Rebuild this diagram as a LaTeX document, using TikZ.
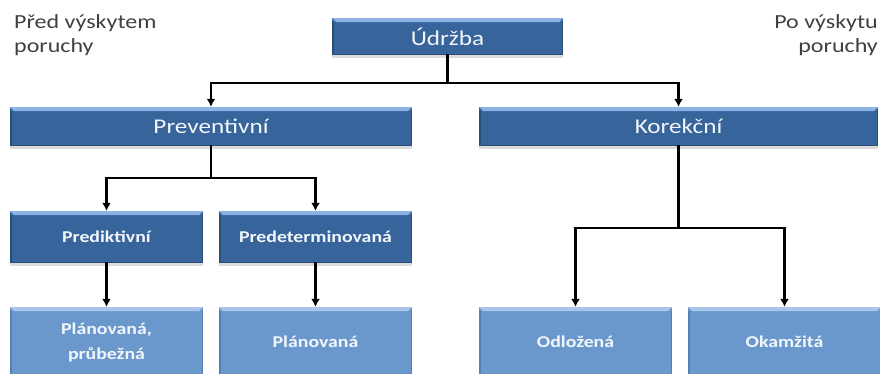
\documentclass[tikz,border=0pt]{standalone}
\usepackage{fontspec}
\setmainfont{Carlito}[FakeStretch=1.2]
\usetikzlibrary{arrows.meta,shadows}

\definecolor{boxdark}{HTML}{37649A}
\definecolor{boxdarktop}{HTML}{8DB3E2}
\definecolor{boxdarkedge}{HTML}{2A4E78}
\definecolor{boxlight}{HTML}{6A98CC}
\definecolor{boxlighttop}{HTML}{A9C6EA}
\definecolor{boxlightedge}{HTML}{5580B4}
\definecolor{boxtext}{HTML}{F2F6FB}
\definecolor{notetext}{HTML}{404040}

\tikzset{
  bevel/.style 2 args={path picture={
    % light strip along the top edge
    \fill[#1] (path picture bounding box.north west)
      -- (path picture bounding box.north east)
      -- ([xshift=-4pt,yshift=-4pt]path picture bounding box.north east)
      -- ([xshift=4pt,yshift=-4pt]path picture bounding box.north west) -- cycle;
    % darker thin sides and bottom
    \fill[#2] ([yshift=-4pt]path picture bounding box.north west)
      rectangle ([xshift=1.5pt]path picture bounding box.south west);
    \fill[#2] ([yshift=-4pt]path picture bounding box.north east)
      rectangle ([xshift=-1.5pt]path picture bounding box.south east);
    \fill[#2] (path picture bounding box.south west)
      rectangle ([yshift=1.5pt]path picture bounding box.south east);
  }},
  basebox/.style={rectangle, inner sep=0pt, align=center, text=boxtext,
    drop shadow={shadow xshift=0pt, shadow yshift=-2.5pt, opacity=0.28}},
  topbox/.style={basebox, fill=boxdark, bevel={boxdarktop}{boxdarkedge},
    font=\fontsize{21}{25}\selectfont},
  midbox/.style={basebox, fill=boxdark, bevel={boxdarktop}{boxdarkedge},
    minimum width=193pt, minimum height=52pt,
    font=\bfseries\fontsize{16.5}{24}\selectfont},
  leafbox/.style={basebox, fill=boxlight, bevel={boxlighttop}{boxlightedge},
    minimum width=193pt, minimum height=70pt,
    font=\bfseries\fontsize{16.5}{25}\selectfont},
  note/.style={inner sep=0pt, text=notetext, font=\fontsize{20}{24}\selectfont},
  conn/.style={line width=2.7pt, line join=miter, line cap=rect,
    -{Latex[width=9pt,length=8pt]}},
}

\begin{document}
\begin{tikzpicture}[x=1pt,y=-1pt]
  \useasboundingbox (0,0) rectangle (880,373);
  \clip (0,0) rectangle (880,373);

  % side notes
  \node[note, anchor=north west, align=left] (before) at (14,14)
    {Před výskytem\\poruchy};
  \node[note, anchor=north east, align=right] (after) at (878,14)
    {Po výskytu\\poruchy\hspace{10pt}};

  % boxes
  \node[topbox, minimum width=231pt, minimum height=37pt] (udrzba) at (447.5,36.5) {Údržba};
  \node[topbox, minimum width=402pt, minimum height=39pt] (prev) at (211,126.5) {Preventivní};
  \node[topbox, minimum width=399pt, minimum height=39pt] (kor) at (678.5,126.5) {Korekční};

  \node[midbox] (pred) at (106.5,237) {Prediktivní};
  \node[midbox] (predet) at (315.5,237) {Predeterminovaná};

  \node[leafbox] (plan1) at (106.5,342) {Plánovaná,\\průbežná};
  \node[leafbox] (plan2) at (315.5,342) {Plánovaná};
  \node[leafbox] (odl) at (575.5,342) {Odložená};
  \node[leafbox] (okam) at (784.5,342) {Okamžitá};

  % bus points of the branching connectors
  \coordinate (busA) at (447.5,83);
  \coordinate (busB) at (211,178);
  \coordinate (busC) at (678.5,228);

  % connectors
  \draw[conn] (udrzba.south) -- (busA) -| (prev.north);
  \draw[conn] (udrzba.south) -- (busA) -| (kor.north);

  \draw[conn] (prev.south) -- (busB) -| (pred.north);
  \draw[conn] (prev.south) -- (busB) -| (predet.north);

  \draw[conn] (kor.south) -- (busC) -| (odl.north);
  \draw[conn] (kor.south) -- (busC) -| (okam.north);

  \draw[conn] (pred.south) -- (plan1.north);
  \draw[conn] (predet.south) -- (plan2.north);
\end{tikzpicture}
\end{document}
